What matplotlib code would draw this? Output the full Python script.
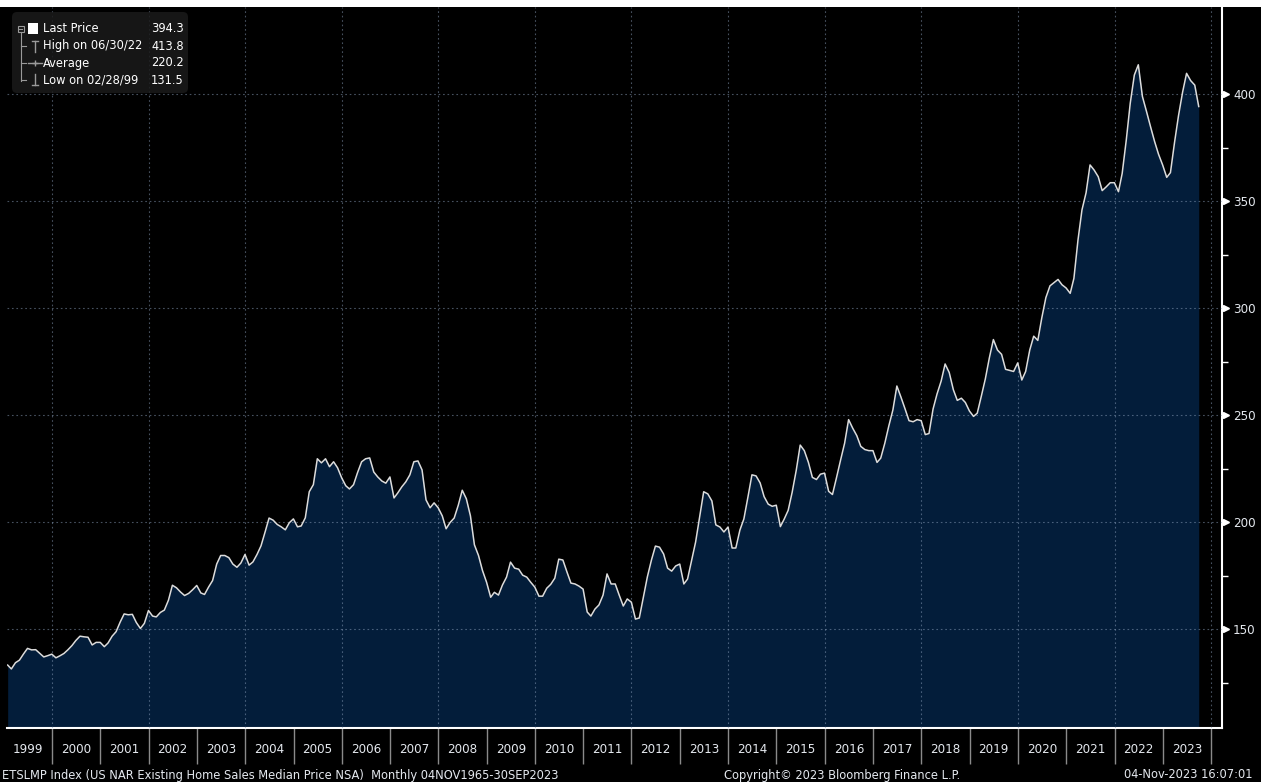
import matplotlib
matplotlib.use("Agg")
import matplotlib.pyplot as plt
import matplotlib.dates as mdates
from matplotlib.patches import FancyBboxPatch, Rectangle
import pandas as pd

# ETSLMP Index, monthly median price (thousand USD), Jan 1999 - Sep 2023
p1999 = [133.3, 131.5, 134.4, 135.6, 138.5, 141.1, 140.4, 140.5, 138.8, 137.1, 137.7, 138.4]
p2000 = [136.7, 137.6, 138.7, 140.4, 142.4, 144.8, 146.8, 146.5, 146.3, 142.7, 143.9, 143.9]
p2001 = [141.9, 143.6, 146.8, 148.9, 153.4, 157.2, 156.8, 157.0, 153.2, 150.4, 152.8, 158.8]
p2002 = [156.2, 155.8, 157.9, 159.0, 163.6, 170.6, 169.4, 167.4, 165.8, 166.8, 168.5, 170.5]
p2003 = [167.0, 166.3, 169.8, 172.8, 180.5, 184.5, 184.5, 183.5, 180.5, 179.0, 181.0, 185.0]
p2004 = [180.0, 181.5, 185.0, 189.0, 195.5, 202.0, 201.0, 199.0, 197.9, 196.5, 199.8, 201.6]
p2005 = [197.9, 198.3, 202.1, 214.3, 217.6, 229.7, 227.8, 229.7, 226.0, 228.3, 225.5, 220.8]
p2006 = [217.1, 215.6, 217.6, 223.2, 228.3, 229.7, 230.1, 223.5, 221.2, 219.3, 218.3, 221.2]
p2007 = [211.4, 213.7, 216.6, 218.9, 222.2, 228.3, 228.7, 224.5, 210.5, 206.8, 209.1, 206.8]
p2008 = [203.0, 197.0, 200.0, 202.0, 208.0, 215.0, 211.0, 203.0, 189.5, 184.5, 177.5, 172.0]
p2009 = [165.0, 167.3, 166.0, 170.7, 174.4, 181.4, 178.6, 178.1, 175.3, 174.4, 172.0, 169.7]
p2010 = [165.5, 165.5, 169.2, 171.0, 173.9, 182.8, 182.4, 176.8, 171.6, 171.2, 170.2, 168.8]
p2011 = [158.1, 156.2, 159.5, 161.4, 166.0, 175.9, 171.2, 171.2, 166.0, 160.9, 164.2, 162.7]
p2012 = [154.8, 155.3, 165.1, 174.5, 182.4, 188.9, 188.4, 185.2, 178.6, 177.2, 179.6, 180.5]
p2013 = [171.2, 173.5, 182.4, 190.8, 202.6, 214.3, 213.3, 210.0, 198.8, 197.8, 195.5, 197.8]
p2014 = [188.0, 188.0, 196.4, 201.6, 211.9, 222.2, 221.7, 218.4, 212.0, 208.5, 207.5, 208.0]
p2015 = [198.0, 201.4, 205.6, 214.0, 224.3, 236.1, 233.5, 228.0, 221.0, 220.0, 222.5, 223.0]
p2016 = [214.5, 213.0, 221.0, 229.0, 237.0, 248.0, 244.0, 240.5, 235.5, 234.0, 233.5, 233.5]
p2017 = [228.0, 230.0, 237.0, 245.0, 252.5, 263.7, 258.5, 253.0, 247.5, 247.0, 248.0, 247.5]
p2018 = [241.0, 241.5, 253.0, 260.0, 266.0, 274.0, 270.0, 262.0, 257.0, 258.0, 256.0, 252.0]
p2019 = [249.5, 251.0, 259.0, 267.0, 277.0, 285.4, 280.5, 278.5, 271.5, 271.0, 270.5, 274.5]
p2020 = [266.5, 270.5, 280.5, 287.0, 285.0, 295.5, 305.0, 310.5, 312.0, 313.5, 311.0, 309.5]
p2021 = [307.0, 314.0, 332.0, 346.0, 354.0, 367.0, 364.6, 361.5, 355.0, 356.8, 358.7, 358.7]
p2022 = [354.5, 363.0, 378.6, 395.8, 409.0, 413.8, 399.0, 392.0, 385.0, 378.0, 372.0, 367.0]
p2023 = [361.2, 363.4, 377.5, 390.0, 401.0, 409.8, 406.4, 404.3, 394.3]

prices = (p1999 + p2000 + p2001 + p2002 + p2003 + p2004 + p2005 + p2006 + p2007
          + p2008 + p2009 + p2010 + p2011 + p2012 + p2013 + p2014 + p2015 + p2016
          + p2017 + p2018 + p2019 + p2020 + p2021 + p2022 + p2023)

years = list(range(1999, 2024))
year_labels = [str(y) for y in years]
yticks = [150, 200, 250, 300, 350, 400]
yminor = [125, 175, 225, 275, 325, 375]

legend_labels = ["Last Price", "High on 06/30/22", "Average", "Low on 02/28/99"]
legend_values = ["394.3", "413.8", "220.2", "131.5"]

footer_left = "ETSLMP Index (US NAR Existing Home Sales Median Price NSA)  Monthly 04NOV1965-30SEP2023"
footer_mid = "Copyright\u00a9 2023 Bloomberg Finance L.P."
footer_right = "04-Nov-2023 16:07:01"

plt.rcParams['font.family'] = ['DejaVu Sans']
plt.rcParams['font.stretch'] = 'condensed'

W, H = 1261, 782
FILL = '#031d3a'
GRID = '#8fa3bf'
TXT = '#e4e8ee'
FS = 9.2


def plotting():
    try:
        dates = pd.date_range("1999-01-31", periods=len(prices), freq="ME")
    except ValueError:
        dates = pd.date_range("1999-01-31", periods=len(prices), freq="M")

    fig = plt.figure(figsize=(W / 100, H / 100), dpi=100, facecolor='black')
    ax = fig.add_axes([7 / W, 1 - 728 / H, (1222 - 7) / W, (728 - 7) / H])
    ax.set_facecolor('black')

    ylo, yhi = 103.9, 440.8
    ax.fill_between(dates, prices, ylo, color=FILL, lw=0, zorder=1)
    ax.plot(dates, prices, color='#dcdcdc', lw=1.1, zorder=4)
    ax.set_xlim(pd.Timestamp("1999-01-26"), pd.Timestamp("2024-03-24"))
    ax.set_ylim(ylo, yhi)

    # dotted grid
    for v in yticks:
        ax.axhline(v, color=GRID, alpha=0.5, lw=0.8, ls=(0, (1.5, 2.5)), zorder=3)
    for y in range(2000, 2025, 2):
        ax.axvline(pd.Timestamp(f"{y}-01-01"), color=GRID, alpha=0.5, lw=0.8,
                   ls=(0, (1.5, 2.5)), zorder=3)

    # right value axis
    ax.yaxis.tick_right()
    ax.set_yticks(yticks)
    ax.set_yticks(yminor, minor=True)
    ax.set_yticklabels([str(v) for v in yticks])
    ax.tick_params(axis='y', which='major', length=0, pad=8, labelsize=9.5,
                   labelcolor=TXT)
    ax.tick_params(axis='y', which='minor', length=4, width=1, color='white',
                   direction='out')
    ax.plot([1.0037] * len(yticks), yticks, ls='none', marker='>', ms=4.5,
            color='white', transform=ax.get_yaxis_transform(), clip_on=False,
            zorder=6)

    # year band
    bounds = [mdates.date2num(pd.Timestamp(f"{y}-01-01")) for y in range(2000, 2025)]
    mids = [mdates.date2num(pd.Timestamp(f"{y}-07-02")) for y in years]
    ax.set_xticks(bounds)
    ax.set_xticklabels([])
    ax.set_xticks(mids, minor=True)
    ax.set_xticklabels(year_labels, minor=True)
    ax.tick_params(axis='x', which='major', length=26, width=1, color='#8a8a8a',
                   direction='out')
    ax.tick_params(axis='x', which='minor', length=0, pad=11, labelsize=9.5,
                   labelcolor=TXT)

    for s in ['top', 'left']:
        ax.spines[s].set_visible(False)
    for s in ['right', 'bottom']:
        ax.spines[s].set_color('white')
        ax.spines[s].set_linewidth(1.5)

    # footer
    fy = 1 - 775 / H
    fig.text(2 / W, fy, footer_left, color=TXT, fontsize=FS, va='center')
    fig.text(724 / W, fy, footer_mid, color=TXT, fontsize=FS, va='center')
    fig.text(1252 / W, fy, footer_right, color=TXT, fontsize=FS, va='center',
             ha='right')

    # overlay in pixel coords: top strip + legend box
    ov = fig.add_axes([0, 0, 1, 1], zorder=5)
    ov.set_xlim(0, W)
    ov.set_ylim(H, 0)
    ov.axis('off')
    ov.patch.set_alpha(0)
    ov.add_patch(Rectangle((0, 0), W, 7, color='white', lw=0))
    ov.add_patch(FancyBboxPatch((12, 12), 176, 81,
                                boxstyle='round,pad=0,rounding_size=5',
                                fc='#1a1a1a', ec='none', alpha=0.85))
    gray = '#9a9a9a'
    ov.add_patch(Rectangle((17.5, 25.5), 6, 6, fill=False, ec=gray, lw=0.8))
    ov.plot([19, 22], [28.5, 28.5], color=gray, lw=0.8)
    ov.plot([20.5, 20.5], [31.5, 81], color=gray, lw=0.8)
    for ry in [46, 63, 80]:
        ov.plot([20.5, 26], [ry, ry], color=gray, lw=0.8)
    ov.add_patch(Rectangle((28, 23), 10, 11, color='white', lw=0))
    ov.plot([32, 38], [41, 41], color=gray, lw=1)
    ov.plot([35, 35], [41, 52], color=gray, lw=1)
    ov.plot([28, 42], [63, 63], color=gray, lw=1)
    ov.plot([35], [63], marker='+', ms=5, color=gray, mew=1)
    ov.plot([35, 35], [74, 85], color=gray, lw=1)
    ov.plot([32, 38], [85, 85], color=gray, lw=1)
    for i, (lab, val) in enumerate(zip(legend_labels, legend_values)):
        ry = 29 + i * 17
        ov.text(43, ry, lab, color='white', fontsize=FS, va='center')
        ov.text(151, ry, val, color='white', fontsize=FS, va='center')

    fig.savefig("out.png", dpi=100, facecolor='black')


if __name__ == "__main__":
    plotting()
